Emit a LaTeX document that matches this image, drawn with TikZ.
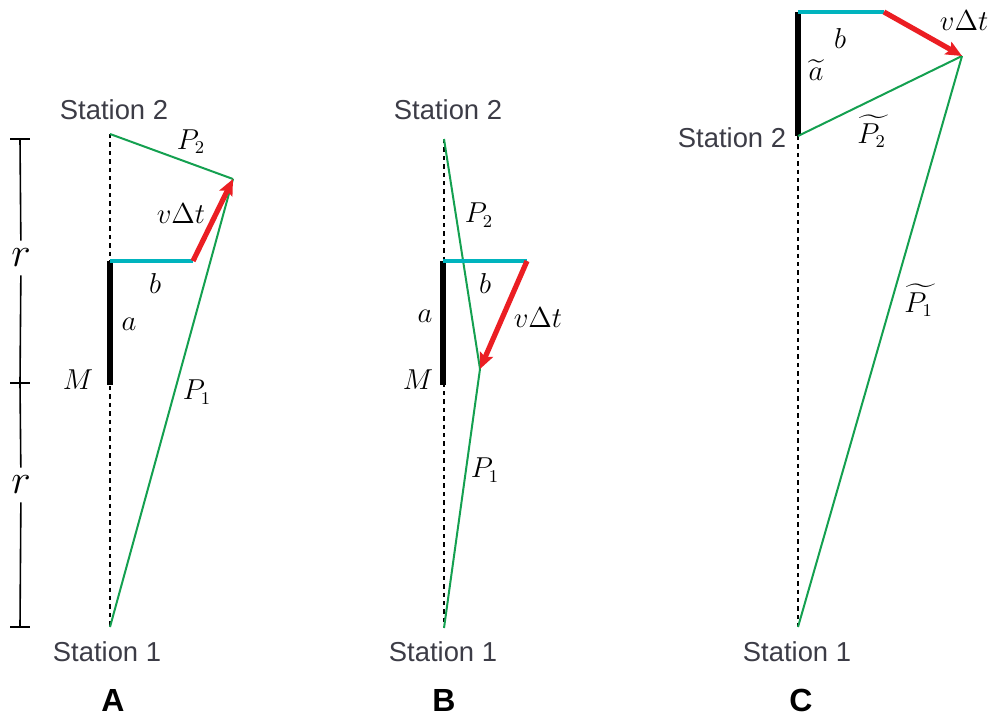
\documentclass[tikz,border=0pt]{standalone}
\usepackage{amsmath}
\usepackage{fontspec}
\setsansfont{Liberation Sans}
\usetikzlibrary{arrows.meta}

\definecolor{sigreen}{RGB}{20,160,80}
\definecolor{vred}{RGB}{235,30,35}
\definecolor{bcyan}{RGB}{0,180,190}
\definecolor{stgray}{RGB}{60,60,70}

\begin{document}
\begin{tikzpicture}[x=0.5pt,y=-0.5pt,
  station/.style={text=stgray,font=\fontsize{13.7}{16}\sffamily},
  sym/.style={font=\fontsize{13.5}{16}\selectfont,inner sep=0pt},
  panel/.style={font=\fontsize{16}{19}\sffamily\bfseries},
  signal/.style={draw=sigreen,line width=1pt},
  sight/.style={draw=black,line width=1.2pt,dash pattern=on 2.2pt off 2pt},
  alen/.style={draw=black,line width=2.6pt},
  blen/.style={draw=bcyan,line width=2.2pt},
  move/.style={draw=vred,line width=2.6pt,-{Stealth[length=8pt,width=7pt,inset=1.5pt]}}]
  \useasboundingbox (0,0) rectangle (990,717);

  % Panel A
  \coordinate (s2a) at (110,134);
  \coordinate (s1a) at (110,627);
  \coordinate (ma)  at (110,385);
  \coordinate (ca)  at (110,261);
  \coordinate (ba)  at (193,261);
  \coordinate (xa)  at (233,179);

  \node[station] (s2a-t) at (114,110) {Station 2};
  \node[station] (s1a-t) at (107,652) {Station 1};
  \node[panel]   (pa)    at (113,700) {A};

  \draw[sight]  (s2a) -- (s1a);
  \draw[alen]   (ca) -- (ma);
  \draw[signal] (s2a) -- (xa);
  \draw[signal] (s1a) -- (xa);
  \draw[blen]   (ca) -- (ba);
  \draw[move]   (ba) -- (xa);

  \node[sym] at (191,142) {$P_2$};
  \node[sym] at (181,214) {$v\Delta t$};
  \node[sym] at (155,283) {$b$};
  \node[sym] at (129,324) {$a$};
  \node[sym] at (78,380)  {$M$};
  \node[sym] at (197,392) {$P_1$};

  % scale bar
  \coordinate (ta) at (20,139);
  \coordinate (tb) at (20,383);
  \coordinate (tc) at (20,627);
  \node[font=\fontsize{20}{22}\selectfont,inner sep=4pt] (r1) at (21,258) {$r$};
  \node[font=\fontsize{20}{22}\selectfont,inner sep=4pt] (r2) at (21,485) {$r$};
  \draw[line width=0.8pt] (ta) -- (r1) -- (tb) -- (r2) -- (tc);
  \foreach \t in {ta,tb,tc}
    \draw[line width=0.8pt] ([xshift=-5pt]\t) -- ([xshift=5pt]\t);

  % Panel B
  \coordinate (s2b) at (444,139);
  \coordinate (s1b) at (444,628);
  \coordinate (mb)  at (443,385);
  \coordinate (cb)  at (443,261);
  \coordinate (bb)  at (527,261);
  \coordinate (xb)  at (480,369);

  \node[station] (s2b-t) at (448,110) {Station 2};
  \node[station] (s1b-t) at (443,652) {Station 1};
  \node[panel]   (pb)    at (444,700) {B};

  \draw[sight]  (s2b) -- (s1b);
  \draw[alen]   (cb) -- (mb);
  \draw[signal] (s2b) -- (xb);
  \draw[signal] (s1b) -- (xb);
  \draw[blen]   (cb) -- (bb);
  \draw[move]   (bb) -- (xb);

  \node[sym] at (479,215) {$P_2$};
  \node[sym] at (485,283) {$b$};
  \node[sym] at (425,316) {$a$};
  \node[sym] at (538,318) {$v\Delta t$};
  \node[sym] at (418,380) {$M$};
  \node[sym] at (485,470) {$P_1$};

  % Panel C
  \coordinate (s2c) at (798,136);
  \coordinate (s1c) at (798,627);
  \coordinate (tc2) at (798,12);
  \coordinate (bc)  at (884,12);
  \coordinate (xc)  at (962,56);

  \node[station] (s2c-t) at (732,138) {Station 2};
  \node[station] (s1c-t) at (797,652) {Station 1};
  \node[panel]   (pc)    at (801,700) {C};

  \draw[sight]  (s2c) -- (s1c);
  \draw[alen]   (tc2) -- (s2c);
  \draw[signal] (s2c) -- (xc);
  \draw[signal] (s1c) -- (xc);
  \draw[blen]   (tc2) -- (bc);
  \draw[move]   (bc) -- (xc);

  \node[sym] at (840,39)  {$b$};
  \node[sym] at (816,70)  {$\widetilde{a}$};
  \node[sym] at (964,21)  {$v\Delta t$};
  \node[sym] at (874,131) {$\widetilde{P_2\mkern3mu}$};
  \node[sym] at (921,300) {$\widetilde{P_1\mkern3mu}$};
\end{tikzpicture}
\end{document}
